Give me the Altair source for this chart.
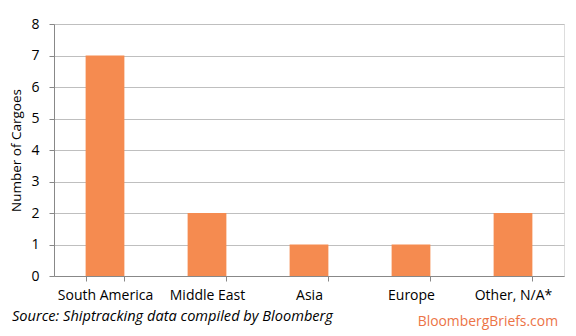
import altair as alt
import pandas as pd

categories = ["South America", "Middle East", "Asia", "Europe", "Other, N/A*"]
cargoes = [7, 2, 1, 1, 2]

df = pd.DataFrame({"region": categories, "cargoes": cargoes})
one = pd.DataFrame({"k": [0]})

FONT = "Open Sans"
BAR = "#F58B50"

bars = alt.Chart(df).mark_bar(color=BAR).encode(
    x=alt.X("region:N", sort=categories, title=None,
            scale=alt.Scale(paddingInner=0.62, paddingOuter=0.31),
            axis=alt.Axis(labelAngle=0, labelFontSize=14, labelFont=FONT, labelColor="#000000",
                          tickBand="extent", tickSize=5, tickColor="#888888",
                          domainColor="#888888", labelPadding=7, grid=False)),
    y=alt.Y("cargoes:Q", title="Number of Cargoes",
            scale=alt.Scale(domain=[0, 8]),
            axis=alt.Axis(values=list(range(0, 9)), labelFontSize=14, labelFont=FONT,
                          labelColor="#000000", tickSize=5, tickColor="#888888",
                          domainColor="#888888", gridColor="#BFBFBF", labelPadding=10,
                          titleFontSize=13.5, titleFont=FONT, titleFontWeight="normal",
                          titleColor="#000000", titlePadding=7)),
)

source = alt.Chart(one).mark_text(
    text="Source: Shiptracking data compiled by Bloomberg", align="left", baseline="middle",
    font=FONT, fontSize=14.6, fontStyle="italic", fontWeight="normal", color="#000000"
).encode(x=alt.value(-42), y=alt.value(293))

brand = alt.Chart(one).mark_text(
    text="BloombergBriefs.com", align="right", baseline="middle",
    font=FONT, fontSize=13.9, fontWeight="normal", color="#EC7346"
).encode(x=alt.value(504), y=alt.value(298))

chart = alt.layer(bars, source, brand).properties(
    width=510, height=252,
    autosize=alt.AutoSizeParams(type="none"),
    padding={"left": 54, "top": 24, "right": 12, "bottom": 60},
).configure_view(stroke=None).configure(background="white")

chart.save("out.html", embed_options={"renderer": "svg", "actions": False})
